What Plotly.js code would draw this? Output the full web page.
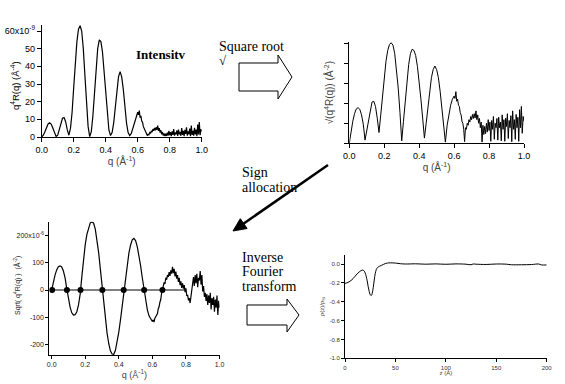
<!DOCTYPE html>
<html>
<head>
<meta charset="utf-8">
<script src="https://cdn.plot.ly/plotly-3.0.1.min.js"></script>
<style>html,body{margin:0;padding:0;background:#fff;}#chart{width:565px;height:384px;}</style>
</head>
<body>
<div id="chart"></div>
<script>
// ---------- DATA ----------
const q = [0,0.01,0.02,0.03,0.04,0.05,0.06,0.07,0.08,0.09,
0.10,0.11,0.12,0.13,0.14,0.15,0.16,0.17,0.18,0.19,
0.20,0.21,0.22,0.23,0.24,0.25,0.26,0.27,0.28,0.29,
0.30,0.31,0.32,0.33,0.34,0.35,0.36,0.37,0.38,0.39,
0.40,0.41,0.42,0.43,0.44,0.45,0.46,0.47,0.48,0.49,
0.50,0.51,0.52,0.53,0.54,0.55,0.56,0.57,0.58,0.59,
0.60,
0.605,0.61,0.615,0.62,0.625,0.63,0.635,0.64,0.645,0.65,
0.655,0.66,0.665,0.67,0.675,0.68,0.685,0.69,0.695,0.70,
0.705,0.71,0.715,0.72,0.725,0.73,0.735,0.74,0.745,0.75,
0.755,0.76,0.765,0.77,0.775,0.78,0.785,0.79,0.795,0.80,
0.805,0.81,0.815,0.82,0.825,0.83,0.835,0.84,0.845,0.85,
0.855,0.86,0.865,0.87,0.875,0.88,0.885,0.89,0.895,0.90,
0.905,0.91,0.915,0.92,0.925,0.93,0.935,0.94,0.945,0.95,
0.955,0.96,0.965,0.97,0.975,0.98,0.985,0.99,0.995,1.00];

// q^4 R(q), units of 1e-9 A^-4
const intensity = [0,1.0,3.0,5.5,7.4,8.0,7.2,5.0,2.3,0.3,
1.0,4.0,8.0,10.6,11.0,8.5,4.0,1.0,5,14,
28,42,54,61,63,60,50,35,19,6,
0.2,3,12,25,39,50,55,54,48,37,
24,12,4,0.8,2.5,8,17,27,34,37,
34,27,17,8,2.5,0.8,2,5,9,12,
14,
12.5,15,11,12,9,8.5,6,5,3,2.5,
1.2,0.8,1.5,1.2,2.5,2,3.5,2.8,4.5,3.5,
5.2,3.8,5.5,4,6.5,3.5,5,2.5,3.8,1.5,
2.8,0.8,2,0.5,1.8,0.6,2.5,0.8,3.5,1,
2.8,0.5,3.2,1.2,4.5,0.8,2.5,1.5,3.8,0.6,
4.2,1.5,2.8,0.7,5,1.2,3.5,0.5,4,1.8,
5.5,0.8,3.2,1.5,4.8,0.5,6.5,1.2,3.5,0.8,
5.2,1.5,4.2,0.4,7,1.5,8.5,1,4.5,3];

// sqrt(q^4 R(q)), arbitrary units
const sqrtIntensity = [0,3.2,5.5,7.4,8.6,8.9,8.5,7.1,4.8,0.8,
3.2,6.3,8.9,10.3,10.5,9.2,6.3,2.7,7.1,11.8,
16.7,20.5,23.2,24.7,25.1,24.5,22.4,18.7,13.8,7.7,
0.6,5.5,11.0,15.8,19.7,22.4,23.5,23.2,21.9,19.2,
15.5,11.0,6.3,1.3,5.0,8.9,13.0,16.4,18.4,19.3,
18.4,16.4,13.0,8.9,5.0,0.3,4.5,7.1,9.5,11.0,
11.8,
11.2,12.9,10.5,11.0,9.5,9.2,7.7,7.1,5.5,5.0,
3.5,0.4,3.9,3.5,5.0,4.5,5.9,5.3,6.7,5.9,
7.2,6.2,7.4,6.3,8.1,5.9,7.1,5.0,6.2,3.9,
5.3,0.3,4.5,2.2,4.2,2.4,5.0,2.8,5.9,3.2,
5.3,0.5,5.7,3.5,6.7,1.0,5.0,3.9,6.2,0.8,
6.5,3.9,5.3,0.6,7.1,3.5,5.9,0.5,6.3,4.2,
7.4,1.2,5.7,3.9,6.9,0.4,8.1,3.5,5.9,1.0,
7.2,3.9,6.5,0.5,8.4,3.9,9.2,2.5,6.7,5.5];

// signed amplitude, units of 1e-6 A^-2
const signedAmp = [0,32,55,74,86,89,85,70,45,5,
-32,-63,-84,-92,-91,-80,-55,-15,50,115,
167,205,232,247,251,246,224,187,138,78,
15,-55,-110,-158,-197,-224,-236,-237,-222,-193,
-155,-110,-60,-5,50,95,135,165,185,190,
182,160,128,90,45,2,-40,-72,-95,-108,
-116,
-110,-118,-104,-100,-92,-88,-70,-62,-45,-35,
-12,0,12,28,22,45,38,55,48,66,
52,72,60,85,62,78,50,68,42,55,
30,45,18,32,8,25,5,18,-8,6,
-22,-18,-38,-30,-48,-25,-5,20,48,15,
55,25,60,10,45,35,70,20,55,-5,
15,-25,-10,-40,-15,-55,-20,-48,-10,-72,
-30,-55,-25,-80,-35,-65,-20,-92,-40,-65];

const zeroQ = [0.003,0.091,0.172,0.302,0.429,0.551,0.66];
const zeroV = [0,0,0,0,0,0,0];
const zeroLineQ = [0,0.8];
const zeroLineV = [0,0];

const z = [0,2,4,6,8,10,12,14,16,17,18,19,20,21,22,23,24,25,26,27,28,29,30,31,32,34,36,38,40,42,45,50,55,60,70,80,90,100,110,120,125,127,130,140,150,160,165,175,185,192,195,200];
const rho = [-0.205,-0.2,-0.19,-0.175,-0.155,-0.13,-0.105,-0.085,-0.07,-0.065,
-0.066,-0.075,-0.095,-0.13,-0.18,-0.24,-0.29,-0.325,-0.335,-0.31,
-0.25,-0.17,-0.1,-0.06,-0.04,-0.025,-0.015,-0.005,0.005,0.01,
0.012,0.01,0.003,0,0.002,-0.002,0.001,-0.003,0.001,-0.002,
-0.008,0,-0.002,-0.005,0,-0.002,-0.008,-0.008,-0.006,0,
-0.01,-0.01];

const qTicks = [0,0.2,0.4,0.6,0.8,1.0];
const qTickText = ["0.0","0.2","0.4","0.6","0.8","1.0"];
const p1Ticks = [0,10,20,30,40,50,60];
const p1TickText = ["0","10","20","30","40","50","60x10<sup>-9</sup>"];
const p2Ticks = [0,5,10,15,20,25];
const p3Ticks = [-200,-100,0,100,200];
const p3TickText = ["-200","-100","0","100","200x10<sup>-6</sup>"];
const p4YTicks = [-1,-0.8,-0.6,-0.4,-0.2,0];
const p4YTickText = ["-1.0","-0.8","-0.6","-0.4","-0.2","0.0"];
const p4XTicks = [0,50,100,150,200];

// ---------- LAYOUT HELPERS ----------
const W = 565, H = 384;
const fx = p => p / W;
const fy = p => 1 - p / H;
function poly(pts){
  return 'M' + pts.map(p => fx(p[0]).toFixed(5) + ',' + fy(p[1]).toFixed(5)).join(' L') + ' Z';
}
const SANS = 'Arial, "Liberation Sans", sans-serif';
const SERIF = '"Liberation Serif", "Times New Roman", serif';

function axis(extra){
  return Object.assign({
    showline:true, linecolor:'#000', linewidth:1, ticks:'outside', ticklen:4, tickwidth:1,
    tickcolor:'#000', showgrid:false, zeroline:false, fixedrange:true,
    tickfont:{family:SANS, size:9, color:'#000'}
  }, extra);
}

const traces = [
  {x:q, y:intensity, xaxis:'x', yaxis:'y', mode:'lines', line:{color:'#000', width:1.2}},
  {x:q, y:sqrtIntensity, xaxis:'x2', yaxis:'y2', mode:'lines', line:{color:'#000', width:1}},
  {x:zeroLineQ, y:zeroLineV, xaxis:'x3', yaxis:'y3', mode:'lines', line:{color:'#808080', width:2}},
  {x:q, y:signedAmp, xaxis:'x3', yaxis:'y3', mode:'lines', line:{color:'#000', width:1.2}},
  {x:zeroQ, y:zeroV, xaxis:'x3', yaxis:'y3', mode:'markers', marker:{color:'#000', size:6}},
  {x:z, y:rho, xaxis:'x4', yaxis:'y4', mode:'lines', line:{color:'#000', width:1, shape:'spline'}}
];

const layout = {
  width:W, height:H, margin:{l:0,r:0,t:0,b:0}, showlegend:false, hovermode:false,
  paper_bgcolor:'#fff', plot_bgcolor:'#fff',
  xaxis: axis({domain:[fx(41.7), fx(201.7)], range:[0,1], anchor:'y',
    tickvals:qTicks, ticktext:qTickText,
    title:{text:'q (Å<sup>-1</sup>)', font:{family:SANS, size:10}, standoff:2}}),
  yaxis: axis({domain:[fy(137), fy(25)], range:[0,63.4], anchor:'x',
    tickvals:p1Ticks, ticktext:p1TickText}),
  xaxis2: axis({domain:[fx(349.3), fx(524)], range:[0,1], anchor:'y2',
    tickvals:qTicks, ticktext:qTickText,
    title:{text:'q (Å<sup>-1</sup>)', font:{family:SANS, size:10}, standoff:3}}),
  yaxis2: axis({domain:[fy(143.3), fy(42)], range:[0,25.3], anchor:'x2',
    tickvals:p2Ticks, showticklabels:false,
    title:{text:'√(q<sup>4</sup>R(q)) (Å<sup>-2</sup>)', font:{family:SANS, size:10}, standoff:8}}),
  xaxis3: axis({domain:[fx(49.3), fx(219.5)], range:[-0.014,1], anchor:'y3',
    tickvals:qTicks, ticktext:qTickText, ticklen:3, tickfont:{family:SANS, size:7, color:'#222'},
    title:{text:'q (Å<sup>-1</sup>)', font:{family:SANS, size:9}, standoff:2}}),
  yaxis3: axis({domain:[fy(355), fy(221.7)], range:[-239.4,251.6], anchor:'x3',
    tickvals:p3Ticks, ticktext:p3TickText, ticklen:3, tickfont:{family:SANS, size:7, color:'#222'}}),
  xaxis4: axis({domain:[fx(345), fx(546.7)], range:[0,200], anchor:'y4',
    tickvals:p4XTicks, ticklen:3, tickfont:{family:SANS, size:6, color:'#333'},
    title:{text:'z (Å)', font:{family:SANS, size:6}, standoff:1}}),
  yaxis4: axis({domain:[fy(358.3), fy(255)], range:[-1.0,0.0954], anchor:'x4',
    tickvals:p4YTicks, ticktext:p4YTickText, ticklen:3, tickfont:{family:SANS, size:6, color:'#333'},
    title:{text:'ρ(z)/ρ<sub>Si</sub>', font:{family:SANS, size:6}, standoff:4}}),
  shapes: [
    {type:'path', xref:'paper', yref:'paper', path:poly([[239,63],[278,63],[278,55],[292,77],[278,99],[278,91],[239,91]]),
      line:{color:'#000', width:1}, fillcolor:'#fff'},
    {type:'path', xref:'paper', yref:'paper', path:poly([[247,305],[287,305],[287,299],[299,315],[287,332],[287,325],[247,325]]),
      line:{color:'#000', width:1}, fillcolor:'#fff'},
    {type:'line', xref:'paper', yref:'paper', x0:fx(328), y0:fy(165), x1:fx(243), y1:fy(224),
      line:{color:'#000', width:2.5}},
    {type:'path', xref:'paper', yref:'paper', path:poly([[233,231],[247.1,228.5],[240.3,218.7]]),
      line:{color:'#000', width:1}, fillcolor:'#000'}
  ],
  annotations: [
    {xref:'paper', yref:'paper', x:fx(15), y:fy(86), text:'q<sup>4</sup>R(q) (Å<sup>-4</sup>)', showarrow:false,
      textangle:-90, xanchor:'center', yanchor:'middle', font:{family:SANS, size:9.5, color:'#000'}},
    {xref:'paper', yref:'paper', x:fx(17), y:fy(286), text:'Sqrt( q<sup>4</sup>R(q) )  (Å<sup>-2</sup>)', showarrow:false,
      textangle:-90, xanchor:'center', yanchor:'middle', font:{family:SANS, size:7, color:'#222'}},
    {xref:'paper', yref:'paper', x:fx(161), y:fy(55), text:'<b>Intensitv</b>', showarrow:false,
      xanchor:'center', yanchor:'middle', font:{family:SERIF, size:13, color:'#000'}},
    {xref:'paper', yref:'paper', x:fx(217), y:fy(46.5), text:'Square root', showarrow:false,
      xanchor:'left', yanchor:'middle', font:{family:SERIF, size:14, color:'#000'}},
    {xref:'paper', yref:'paper', x:fx(217), y:fy(61), text:'√', showarrow:false,
      xanchor:'left', yanchor:'middle', font:{family:SERIF, size:13, color:'#000'}},
    {xref:'paper', yref:'paper', x:fx(240), y:fy(172), text:'Sign', showarrow:false,
      xanchor:'left', yanchor:'middle', font:{family:SERIF, size:14, color:'#000'}},
    {xref:'paper', yref:'paper', x:fx(240), y:fy(187), text:'allocation', showarrow:false,
      xanchor:'left', yanchor:'middle', font:{family:SERIF, size:14, color:'#000'}},
    {xref:'paper', yref:'paper', x:fx(240), y:fy(257), text:'Inverse', showarrow:false,
      xanchor:'left', yanchor:'middle', font:{family:SERIF, size:14, color:'#000'}},
    {xref:'paper', yref:'paper', x:fx(240), y:fy(271.5), text:'Fourier', showarrow:false,
      xanchor:'left', yanchor:'middle', font:{family:SERIF, size:14, color:'#000'}},
    {xref:'paper', yref:'paper', x:fx(240), y:fy(286), text:'transform', showarrow:false,
      xanchor:'left', yanchor:'middle', font:{family:SERIF, size:14, color:'#000'}}
  ]
};

Plotly.newPlot('chart', traces, layout, {staticPlot:true, displayModeBar:false});
</script>
</body>
</html>
